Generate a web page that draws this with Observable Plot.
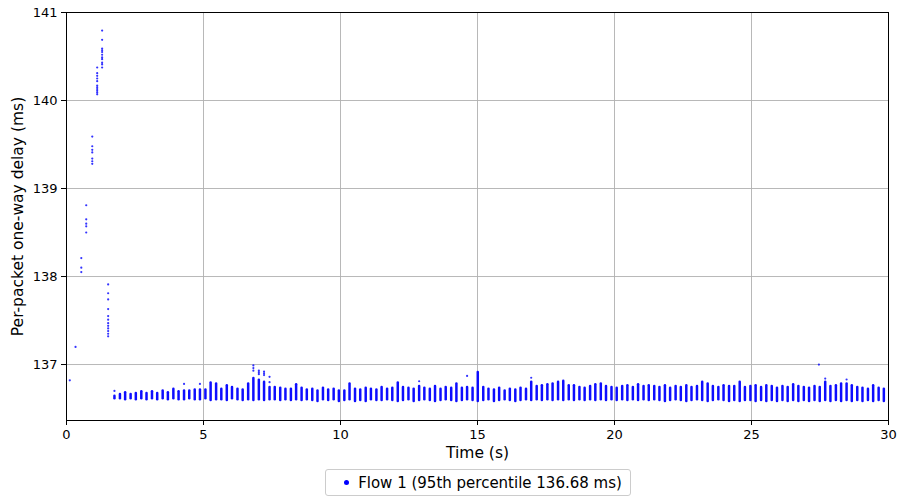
<!DOCTYPE html>
<html>
<head>
<meta charset="utf-8">
<script src="https://cdn.jsdelivr.net/npm/d3@7"></script>
<script src="https://cdn.jsdelivr.net/npm/@observablehq/plot@0.6"></script>
<style>
  body { margin: 0; background: white; font-family: "DejaVu Sans", sans-serif; }
  #wrap { width: 898px; }
  #legend { display: flex; justify-content: center; margin-top: 7px; padding-left: 58px; }
  #legend .box { border: 1px solid #cccccc; border-radius: 3px; height: 25px; padding: 0 8px 0 18px;
    display: flex; align-items: center; font-size: 15px; color: #000; }
  #legend .dot { width: 5px; height: 5px; border-radius: 50%; background: blue; margin-right: 9px; }
</style>
</head>
<body>
<div id="wrap"></div>
<script>
const xTicks = [0, 5, 10, 15, 20, 25, 30];
const yTicks = [137, 138, 139, 140, 141];
const xLabel = "Time (s)";
const yLabel = "Per-packet one-way delay (ms)";
const legendLabel = "Flow 1 (95th percentile 136.68 ms)";

// packet stacks (time, lowest delay, highest delay)
const stackT = [
  1.75, 1.95, 2.14, 2.34, 2.53, 2.73, 2.92, 3.12, 3.31, 3.51,
  3.70, 3.90, 4.09, 4.29, 4.48, 4.68, 4.87, 5.07, 5.26, 5.46,
  5.65, 5.85, 6.04, 6.24, 6.43, 6.63, 6.82, 7.02, 7.21, 7.41,
  7.60, 7.80, 7.99, 8.19, 8.38, 8.58, 8.77, 8.97, 9.16, 9.36,
  9.55, 9.75, 9.94, 10.14, 10.33, 10.53, 10.72, 10.92, 11.11, 11.31,
  11.50, 11.70, 11.89, 12.09, 12.28, 12.48, 12.67, 12.87, 13.06, 13.26,
  13.45, 13.65, 13.84, 14.04, 14.23, 14.43, 14.62, 14.82, 15.01, 15.21,
  15.40, 15.60, 15.79, 15.99, 16.18, 16.38, 16.57, 16.77, 16.96, 17.16,
  17.35, 17.55, 17.74, 17.94, 18.13, 18.33, 18.52, 18.72, 18.91, 19.11,
  19.30, 19.50, 19.69, 19.89, 20.08, 20.28, 20.47, 20.67, 20.86, 21.06,
  21.25, 21.45, 21.64, 21.84, 22.03, 22.23, 22.42, 22.62, 22.81, 23.01,
  23.20, 23.40, 23.59, 23.79, 23.98, 24.18, 24.37, 24.57, 24.76, 24.96,
  25.15, 25.35, 25.54, 25.74, 25.93, 26.13, 26.32, 26.52, 26.71, 26.91,
  27.10, 27.30, 27.49, 27.69, 27.88, 28.08, 28.27, 28.47, 28.66, 28.86,
  29.05, 29.25, 29.44, 29.64, 29.83
];
const stackLo = [
  136.61, 136.61, 136.60, 136.61, 136.60, 136.61, 136.60, 136.61, 136.60, 136.61,
  136.60, 136.61, 136.60, 136.60, 136.61, 136.60, 136.60, 136.61, 136.59, 136.60,
  136.60, 136.59, 136.61, 136.60, 136.59, 136.60, 136.59, 136.60, 136.59, 136.60,
  136.60, 136.59, 136.60, 136.59, 136.60, 136.59, 136.60, 136.59, 136.58, 136.60,
  136.59, 136.60, 136.58, 136.59, 136.60, 136.58, 136.59, 136.58, 136.60, 136.59,
  136.59, 136.60, 136.59, 136.58, 136.59, 136.60, 136.58, 136.59, 136.60, 136.59,
  136.58, 136.59, 136.60, 136.59, 136.58, 136.59, 136.60, 136.59, 136.58, 136.59,
  136.60, 136.58, 136.59, 136.60, 136.59, 136.58, 136.59, 136.60, 136.59, 136.60,
  136.59, 136.60, 136.59, 136.60, 136.59, 136.60, 136.59, 136.60, 136.59, 136.60,
  136.59, 136.60, 136.59, 136.60, 136.59, 136.60, 136.59, 136.60, 136.59, 136.60,
  136.59, 136.60, 136.59, 136.58, 136.59, 136.60, 136.59, 136.58, 136.59, 136.60,
  136.59, 136.58, 136.59, 136.60, 136.59, 136.58, 136.59, 136.58, 136.59, 136.59,
  136.58, 136.59, 136.58, 136.59, 136.58, 136.59, 136.58, 136.59, 136.58, 136.59,
  136.58, 136.59, 136.58, 136.59, 136.58, 136.59, 136.58, 136.59, 136.58, 136.59,
  136.58, 136.59, 136.58, 136.59, 136.58
];
const stackHi = [
  136.64, 136.66, 136.68, 136.66, 136.67, 136.69, 136.67, 136.69, 136.67, 136.70,
  136.68, 136.72, 136.69, 136.70, 136.70, 136.71, 136.71, 136.71, 136.79, 136.78,
  136.72, 136.76, 136.74, 136.72, 136.71, 136.78, 136.84, 136.82, 136.80, 136.74,
  136.74, 136.73, 136.72, 136.72, 136.77, 136.73, 136.71, 136.72, 136.70, 136.73,
  136.71, 136.72, 136.70, 136.70, 136.78, 136.72, 136.71, 136.73, 136.72, 136.71,
  136.74, 136.72, 136.73, 136.79, 136.74, 136.73, 136.72, 136.75, 136.73, 136.72,
  136.75, 136.72, 136.74, 136.73, 136.78, 136.73, 136.74, 136.73, 136.91, 136.74,
  136.72, 136.71, 136.73, 136.70, 136.72, 136.71, 136.73, 136.72, 136.80, 136.75,
  136.76, 136.77, 136.78, 136.80, 136.81, 136.76, 136.76, 136.74, 136.73, 136.75,
  136.77, 136.78, 136.75, 136.74, 136.73, 136.75, 136.76, 136.74, 136.77, 136.75,
  136.76, 136.75, 136.74, 136.76, 136.73, 136.75, 136.74, 136.76, 136.74, 136.75,
  136.80, 136.78, 136.75, 136.74, 136.76, 136.75, 136.75, 136.80, 136.74, 136.75,
  136.76, 136.74, 136.76, 136.75, 136.73, 136.75, 136.74, 136.77, 136.75, 136.74,
  136.73, 136.75, 136.74, 136.80, 136.75, 136.76, 136.78, 136.78, 136.76, 136.74,
  136.73, 136.72, 136.76, 136.73, 136.72
];

// individual packets outside the stacks
const dotT = [
  0.12, 0.33,
  0.54, 0.54, 0.54,
  0.72, 0.72, 0.72, 0.72, 0.72,
  0.94, 0.94, 0.94, 0.94, 0.94, 0.94, 0.94,
  1.12, 1.12, 1.12, 1.12, 1.12, 1.12, 1.12, 1.12, 1.12, 1.12, 1.12,
  1.30, 1.30, 1.30, 1.30, 1.30, 1.30, 1.30, 1.30, 1.30, 1.30, 1.30,
  1.52, 1.52, 1.52, 1.52, 1.52, 1.52, 1.52, 1.52, 1.52, 1.52, 1.52, 1.52,
  1.75, 4.29, 4.87,
  6.82, 6.82, 6.82, 7.02, 7.02, 7.02, 7.21, 7.21, 7.21, 7.41, 7.41,
  12.87, 14.62, 16.96, 27.46, 27.69, 28.47
];
const dotD = [
  136.82, 137.20,
  138.21, 138.10, 138.05,
  138.81, 138.65, 138.60, 138.57, 138.50,
  139.59, 139.48, 139.44, 139.41, 139.34, 139.31, 139.28,
  140.375, 140.31, 140.28, 140.25, 140.22, 140.17, 140.15, 140.13, 140.11, 140.09, 140.07,
  140.795, 140.69, 140.59, 140.57, 140.55, 140.52, 140.49, 140.47, 140.43, 140.41, 140.375,
  137.91, 137.81, 137.74, 137.63, 137.55, 137.51, 137.47, 137.44, 137.41, 137.38, 137.35, 137.32,
  136.70, 136.78, 136.78,
  136.99, 136.96, 136.93, 136.93, 136.91, 136.89, 136.92, 136.90, 136.88, 136.86, 136.80,
  136.81, 136.87, 136.85, 137.00, 136.84, 136.83
];

const chart = Plot.plot({
  width: 898,
  height: 462,
  marginLeft: 66,
  marginRight: 10,
  marginTop: 12,
  marginBottom: 42,
  x: {domain: [0, 30]},
  y: {domain: [136.364, 141]},
  style: {fontFamily: "DejaVu Sans", fontSize: "13px", color: "black", background: "white"},
  marks: [
    Plot.gridX(xTicks, {stroke: "#b0b0b0", strokeOpacity: 1, strokeWidth: 0.9}),
    Plot.gridY(yTicks, {stroke: "#b0b0b0", strokeOpacity: 1, strokeWidth: 0.9}),
    Plot.ruleX(stackT, {x: d => d, y1: (d, i) => stackLo[i], y2: (d, i) => stackHi[i],
      stroke: "blue", strokeWidth: 2.5, strokeLinecap: "round", strokeOpacity: 0.95}),
    Plot.dot(dotT, {x: d => d, y: (d, i) => dotD[i], r: 1.1, fill: "blue", stroke: "none", fillOpacity: 0.8}),
    Plot.frame({stroke: "black", strokeWidth: 1}),
    Plot.axisX(xTicks, {tickSize: 5, tickPadding: 4, label: null, stroke: "black", tickFormat: d => String(d)}),
    Plot.axisY(yTicks, {tickSize: 5, tickPadding: 4, label: null, stroke: "black", tickFormat: d => String(d)}),
    Plot.text([xLabel], {frameAnchor: "bottom", lineAnchor: "middle", textAnchor: "middle", dy: 33, fontSize: 15.5, fill: "black"}),
    Plot.text([yLabel], {frameAnchor: "left", lineAnchor: "middle", textAnchor: "middle", dx: -48, rotate: -90, fontSize: 15.5, fill: "black"})
  ]
});
const wrap = document.getElementById("wrap");
wrap.appendChild(chart);
const legend = document.createElement("div");
legend.id = "legend";
legend.innerHTML = `<div class="box"><span class="dot"></span><span></span></div>`;
legend.querySelector(".box span:last-child").textContent = legendLabel;
wrap.appendChild(legend);
</script>
</body>
</html>
